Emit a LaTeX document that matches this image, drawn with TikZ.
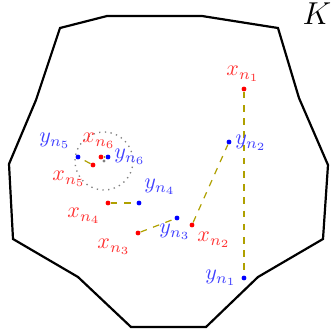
\documentclass[tikz,border=0pt]{standalone}
\usetikzlibrary{calc}
\definecolor{linkcol}{RGB}{175,160,0}
\tikzset{
  dotbase/.style={circle,inner sep=0pt,minimum size=2.2pt},
  xdot/.style={dotbase,fill=red},
  ydot/.style={dotbase,fill=blue},
  xlab/.style={text=red!80,inner sep=0pt},
  ylab/.style={text=blue!75,inner sep=0pt},
  link/.style={draw=linkcol,dashed,line width=0.55pt},
  hull/.style={draw=black,line width=1pt,line join=miter},
  ball/.style={draw=gray,dotted,line width=0.6pt}
}
\begin{document}
\begin{tikzpicture}[x=0.4545pt,y=-0.4545pt]
\useasboundingbox (0,0) rectangle (331,331);
% polygon K
\draw[hull] (60,28) -- (107,16) -- (202,16) -- (278,28) -- (299,98) -- (328,165) -- (323,239) -- (258,277) -- (206,327) -- (131,327) -- (78,277) -- (13,239) -- (9,164) -- (36,100) -- cycle;
\node[inner sep=0pt] (K) at (317,14) {\Large $K$};
% dotted ball
\node[circle,fill=gray,inner sep=0pt,minimum size=1.4pt] (c) at (104,161) {};
\draw[ball] (c) circle[radius=29];
% points
\node[xdot] (x1) at (244,89) {};
\node[ydot] (y1) at (244,278) {};
\node[ydot] (y2) at (229,142) {};
\node[xdot] (x2) at (192,225) {};
\node[ydot] (y3) at (177,218) {};
\node[xdot] (x3) at (138,233) {};
\node[ydot] (y4) at (139,203) {};
\node[xdot] (x4) at (108,203) {};
\node[ydot] (y5) at (78,157) {};
\node[xdot] (x5) at (93,165) {};
\node[xdot] (x6) at (101,157) {};
\node[ydot] (y6) at (108,157) {};
% links
\draw[link] (x1) -- (y1);
\draw[link] (x2) -- (y2);
\draw[link] (x3) -- (y3);
\draw[link] (x4) -- (y4);
\draw[link] (x5) -- (y5);
\draw[link] (x6) -- (y6);
% labels
\node[xlab] (lx1) at (243,74) {$x_{n_1}$};
\node[ylab] (ly1) at (221,278) {$y_{n_1}$};
\node[ylab] (ly2) at (251,143) {$y_{n_2}$};
\node[xlab] (lx2) at (214,240) {$x_{n_2}$};
\node[ylab] (ly3) at (175,232) {$y_{n_3}$};
\node[xlab] (lx3) at (114,247) {$x_{n_3}$};
\node[ylab] (ly4) at (160,187) {$y_{n_4}$};
\node[xlab] (lx4) at (84,216) {$x_{n_4}$};
\node[xlab] (lx5) at (69,179) {$x_{n_5}$};
\node[ylab] (ly5) at (55,141) {$y_{n_5}$};
\node[xlab] (lx6) at (99,141) {$x_{n_6}$};
\node[ylab] (ly6) at (130,157) {$y_{n_6}$};
\end{tikzpicture}
\end{document}
